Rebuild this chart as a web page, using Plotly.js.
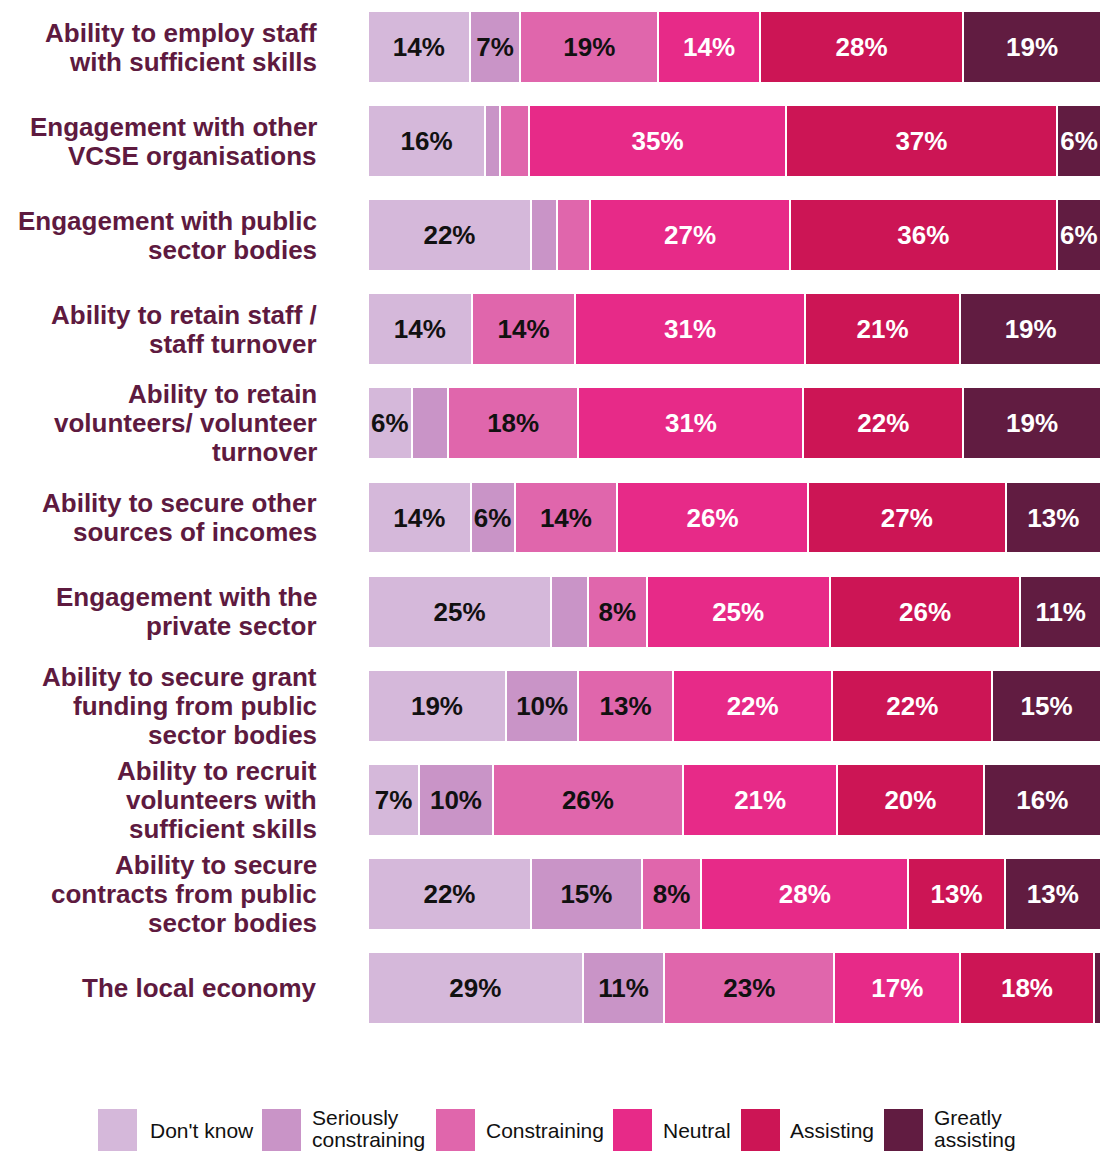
<!DOCTYPE html>
<html>
<head>
<meta charset="utf-8">
<script src="https://cdn.plot.ly/plotly-3.0.1.min.js"></script>
<style>
  html, body { margin: 0; padding: 0; background: #fff; }
  #chart { width: 1104px; height: 1151px; }
</style>
</head>
<body>
<div id="chart"></div>
<script>
// ---- DATA ----
const categories = [
  "Ability to employ staff<br>with sufficient skills",
  "Engagement with other<br>VCSE organisations",
  "Engagement with public<br>sector bodies",
  "Ability to retain staff /<br>staff turnover",
  "Ability to retain<br>volunteers/ volunteer<br>turnover",
  "Ability to secure other<br>sources of incomes",
  "Engagement with the<br>private sector",
  "Ability to secure grant<br>funding from public<br>sector bodies",
  "Ability to recruit<br>volunteers with<br>sufficient skills",
  "Ability to secure<br>contracts from public<br>sector bodies",
  "The local economy"
];
const seriesNames = ["Don't know", "Seriously constraining", "Constraining", "Neutral", "Assisting", "Greatly assisting"];
const legendLabels = [["Don't know"], ["Seriously", "constraining"], ["Constraining"], ["Neutral"], ["Assisting"], ["Greatly", "assisting"]];

const dontKnow      = [14, 16, 22,   14,  6, 14, 25, 19,  7, 22, 29];
const seriously     = [ 7,  2,  3.5,  0,  5,  6,  5, 10, 10, 15, 11];
const constraining  = [19,  4,  4.5, 14, 18, 14,  8, 13, 26,  8, 23];
const neutral       = [14, 35, 27,   31, 31, 26, 25, 22, 21, 28, 17];
const assisting     = [28, 37, 36,   21, 22, 27, 26, 22, 20, 13, 18];
const greatly       = [19,  6,  6,   19, 19, 13, 11, 15, 16, 13,  1];

// ---- STYLE ----
const colors = ["#D5B8DA", "#C994C7", "#E066AC", "#E72A88", "#CC1555", "#611C41"];
const textColors = ["#111111", "#111111", "#111111", "#ffffff", "#ffffff", "#ffffff"];
const allSeries = [dontKnow, seriously, constraining, neutral, assisting, greatly];
const FONT = "Liberation Sans, Arial, sans-serif";
const LABEL_COLOR = "#5E1A3F";

const W = 1104, H = 1151;
const M = { l: 368, r: 3, t: 0, b: 116 };
const plotW = W - M.l - M.r, plotH = H - M.t - M.b;
const px2x = px => (px - M.l) / plotW;
const py2y = py => (H - M.b - py) / plotH;

const traces = allSeries.map((vals, i) => ({
  type: "bar",
  orientation: "h",
  name: seriesNames[i],
  y: categories,
  x: vals,
  text: vals.map(v => v >= 6 ? Math.round(v) + "%" : ""),
  textposition: "inside",
  insidetextanchor: "middle",
  textangle: 0,
  textfont: { family: FONT, size: 26, weight: "bold", color: textColors[i] },
  marker: { color: colors[i], line: { color: "#ffffff", width: 2 } },
  hoverinfo: "skip",
  showlegend: false
}));

const annotations = [];
// category labels: one annotation per line for tight line spacing
const LINE_PITCH = 29;
categories.forEach(cat => {
  const lines = cat.split("<br>");
  lines.forEach((ln, j) => {
    annotations.push({
      xref: "paper", yref: "y",
      x: px2x(319), y: cat,
      xanchor: "right", yanchor: "middle",
      yshift: -(j - (lines.length - 1) / 2) * LINE_PITCH,
      text: ln, showarrow: false,
      font: { family: FONT, size: 26, weight: "bold", color: LABEL_COLOR }
    });
  });
});

// custom legend (large swatches) built from series names/colors
const legX = [98, 262, 436, 613, 741, 884];
const legTextX = [148, 310, 484, 661, 788, 932];
const shapes = colors.map((c, i) => ({
  type: "rect", xref: "paper", yref: "paper",
  x0: px2x(legX[i]), x1: px2x(legX[i] + 39),
  y0: py2y(1152), y1: py2y(1109),
  fillcolor: c, line: { width: 0 }
}));
legendLabels.forEach((lines, i) => {
  const ys = lines.length === 1 ? [1130] : [1117, 1139];
  lines.forEach((ln, j) => {
    annotations.push({
      xref: "paper", yref: "paper",
      x: px2x(legTextX[i]), y: py2y(ys[j]),
      xanchor: "left", yanchor: "middle",
      text: ln, showarrow: false, align: "left",
      font: { family: FONT, size: 21, color: "#111111" }
    });
  });
});

const layout = {
  width: W, height: H,
  margin: M,
  paper_bgcolor: "#ffffff",
  plot_bgcolor: "#ffffff",
  barmode: "stack",
  barnorm: "percent",
  bargap: 0.235,
  showlegend: false,
  xaxis: { range: [0, 100], visible: false, showgrid: false, zeroline: false, fixedrange: true },
  yaxis: {
    autorange: "reversed",
    showgrid: false, zeroline: false, showline: false, ticks: "",
    showticklabels: false,
    fixedrange: true
  },
  shapes: shapes,
  annotations: annotations,
  font: { family: FONT }
};

Plotly.newPlot("chart", traces, layout, { staticPlot: true, displayModeBar: false });
</script>
</body>
</html>
